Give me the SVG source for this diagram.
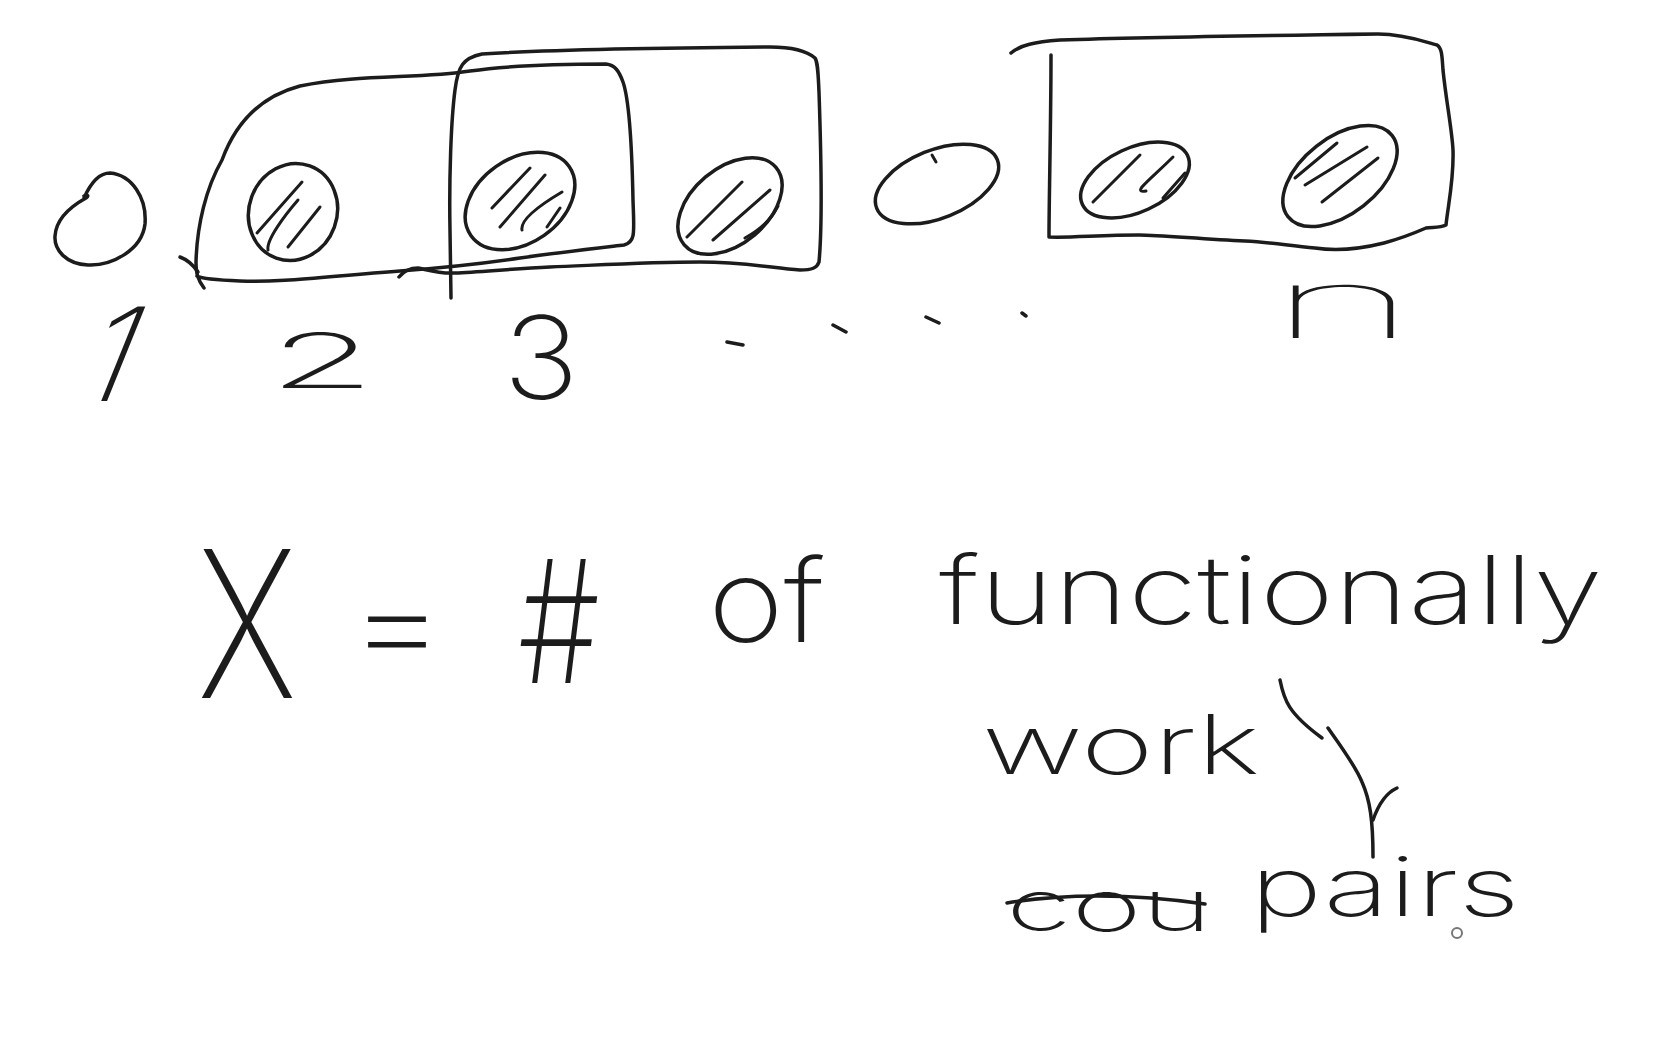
<svg xmlns="http://www.w3.org/2000/svg" width="1654" height="1042" viewBox="0 0 1654 1042">
<style>
.s{fill:none;stroke:#1c1c1c;stroke-width:3.5;stroke-linecap:round;stroke-linejoin:round}
.h{fill:none;stroke:#1c1c1c;stroke-width:3;stroke-linecap:round;stroke-linejoin:round}
.t{fill:#1c1c1c;font-family:Inter,"Liberation Sans",sans-serif;font-weight:200}
.thin{font-weight:100}
</style>
<rect width="1654" height="1042" fill="#ffffff"/>
<g id="boxes">
<path id="boxA" class="s" d="M204,288 C198,280 196,274 196,262 C197,225 206,188 222,160 C236,122 262,96 300,86 C360,74 420,79 470,71 C520,64 580,64 606,64 C615,65 619,71 623,82 C630,102 632,150 633,200 C634,232 636,242 624,245 C590,249 555,253 520,258 C480,264 440,268 400,271 C330,276 280,283 240,281 C216,280 202,279 197,276"/>
<path class="s" d="M180,257 C188,260 194,266 198,272"/>
<path id="boxB" class="s" d="M451,298 L450,230 C449,180 451,120 455,90 C458,66 463,58 482,54 C545,50 650,48 770,47 C796,47 808,52 815,58 C818,63 818,72 819,92 C821,150 823,220 819,262 C817,268 812,270 800,270 C772,268 745,262 700,262 C650,262 600,265 550,267 C510,269 480,272 455,273 C440,274 428,270 418,268 C409,268 403,272 399,277"/>
<path id="boxC" class="s" d="M1011,53 C1020,45 1035,42 1060,40 C1150,37 1300,35 1378,34 C1405,34 1425,42 1437,45 C1442,48 1442,56 1443,70 C1446,100 1452,130 1453,150 C1454,180 1448,205 1446,225 C1440,228 1432,227 1426,228 C1410,235 1395,240 1384,243 C1360,249 1335,251 1315,248 C1290,246 1270,242 1245,241 C1200,239 1160,235 1139,235 C1100,235 1070,238 1049,237 C1049,200 1051,120 1051,55"/>
</g>
<g id="items">
<g id="item1"><path class="s" d="M84,198 C92,180 100,173 110,173 C132,175 147,198 145,224 C142,250 112,266 88,265 C66,264 54,250 55,236 C56,220 68,208 86,198 C89,196 88,194 84,196"/></g>
<g id="item2"><ellipse class="s" cx="293" cy="212" rx="49" ry="44" transform="rotate(-70 293 212)"/>
<path class="h" d="M257,233 L302,182 M268,250 C266,240 285,215 298,200 M288,247 L320,207"/></g>
<g id="item3"><ellipse class="s" cx="520" cy="201" rx="60" ry="42" transform="rotate(-35 520 201)"/>
<path class="h" d="M492,208 L530,168 M500,227 L545,175 M522,230 C520,220 540,205 562,192 M547,227 L560,208"/></g>
<g id="item4"><ellipse class="s" cx="730" cy="206" rx="60" ry="38" transform="rotate(-40 730 206)"/>
<path class="h" d="M687,237 L742,182 M713,240 L770,190 M745,238 C760,230 772,218 778,206"/></g>
<g id="item5"><ellipse class="s" cx="937" cy="184" rx="65" ry="34" transform="rotate(-22 937 184)"/>
<path class="h" d="M932,155 L936,162"/></g>
<g id="item6"><ellipse class="s" cx="1135" cy="180" rx="58" ry="32" transform="rotate(-25 1135 180)"/>
<path class="h" d="M1093,202 L1140,155 M1173,157 C1160,170 1148,180 1142,187 C1139,191 1141,192 1146,191 M1163,198 L1185,173"/></g>
<g id="item7"><ellipse class="s" cx="1340" cy="176" rx="66" ry="38" transform="rotate(-38 1340 176)"/>
<path class="h" d="M1295,178 L1337,143 M1305,185 L1367,147 M1322,202 L1378,158"/></g>
</g>
<g id="labels">
<text class="t" font-size="130" text-anchor="middle" transform="translate(96,401) skewX(-22)">1</text>
<text class="t" x="268" y="388" font-size="76" textLength="108" lengthAdjust="spacingAndGlyphs">2</text>
<text class="t" x="503" y="399" font-size="115" textLength="76" lengthAdjust="spacingAndGlyphs">3</text>
<text class="t thin" x="1268" y="338" font-size="96" textLength="150" lengthAdjust="spacingAndGlyphs">n</text>
<path class="s" d="M727,342 L743,345 M833,325 L846,332 M926,317 L939,323 M1022,313 L1026,316"/>
</g>
<g id="formula">
<text class="t" x="197" y="698" font-size="205" textLength="100" lengthAdjust="spacingAndGlyphs">X</text>
<text class="t" x="347" y="669" font-size="130" textLength="100" lengthAdjust="spacingAndGlyphs">=</text>
<text class="t" x="518" y="683" font-size="170" textLength="82" lengthAdjust="spacingAndGlyphs">#</text>
<text class="t" x="708" y="642" font-size="115" textLength="117" lengthAdjust="spacingAndGlyphs">of</text>
<text class="t" x="939" y="624" font-size="95" textLength="664" lengthAdjust="spacingAndGlyphs">functionally</text>
<text class="t" x="982" y="774" font-size="82" textLength="278" lengthAdjust="spacingAndGlyphs">work</text>
<text class="t" x="1006" y="931" font-size="72" textLength="206" lengthAdjust="spacingAndGlyphs">cou</text>
<path class="s" d="M1007,903 C1060,894 1130,893 1205,904"/>
<text class="t" x="1250" y="916" font-size="82" textLength="270" lengthAdjust="spacingAndGlyphs">pairs</text>
<circle cx="1457" cy="933" r="5" fill="#fff" stroke="#777" stroke-width="2"/>
</g>
<g id="connectors">
<path class="s" d="M1280,680 C1284,700 1288,713 1322,738"/>
<path class="s" d="M1328,728 C1340,745 1355,765 1362,782 C1370,800 1373,820 1373,857"/>
<path class="s" d="M1397,788 C1388,792 1380,800 1373,820"/>
</g>
</svg>
